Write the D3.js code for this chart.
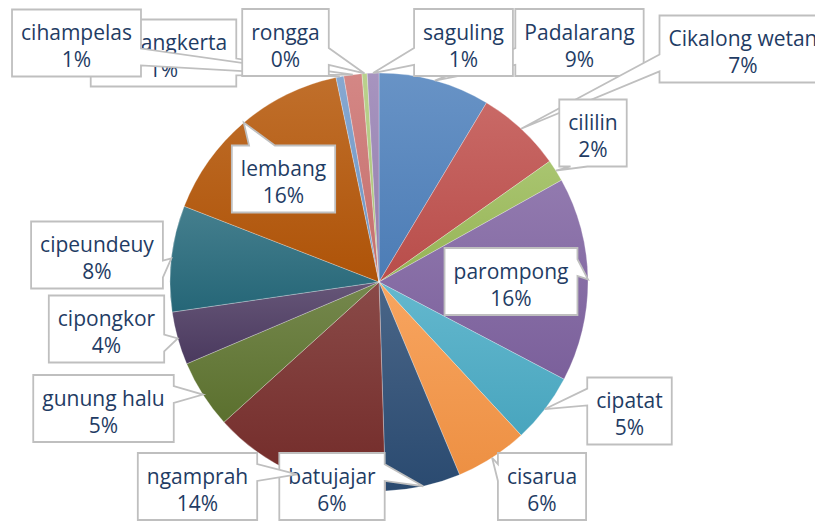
<!DOCTYPE html>
<html>
<head>
<meta charset="utf-8">
<script src="https://cdn.jsdelivr.net/npm/d3@7/dist/d3.min.js"></script>
<style>
  html, body { margin: 0; padding: 0; background: #ffffff; }
  svg { display: block; }
</style>
</head>
<body>
<svg id="chart" width="815" height="522"></svg>
<script>
// ---- data ----
const categories = ["Padalarang", "Cikalong wetan", "cililin", "parompong", "cipatat", "cisarua",
  "batujajar", "ngamprah", "gunung halu", "cipongkor", "cipeundeuy", "lembang",
  "cihampelas", "sindangkerta", "rongga", "saguling"];
const values = [8.6, 6.6, 1.7, 15.8, 5.4, 5.6, 5.8, 13.8, 5.3, 4.1, 8.2, 15.8, 0.6, 1.4, 0.4, 0.9];
const colors = ["#4F81BD", "#C0504D", "#9BBB59", "#8064A2", "#4BACC6", "#F79646",
  "#2C4D75", "#772C2A", "#5F7530", "#4D3B62", "#276A7C", "#B65708",
  "#729ACA", "#CD7371", "#AFC97A", "#9983B5"];
// label box centres (layout, chosen to match reference placement)
const labelCentersX = [579.5, 743, 593, 511, 629.5, 542, 332, 197.5, 103.5, 106.5, 97, 283.5, 76.5, 163.5, 285.5, 463.5];
const labelCentersY = [42.5, 49, 133, 281.5, 411, 486.5, 486.5, 486.5, 408.5, 329, 255, 179, 43, 53, 42.5, 42.5];
const drawOrder = [0, 1, 2, 3, 4, 5, 6, 7, 8, 9, 10, 11, 13, 12, 14, 15];

// ---- layout ----
const W = 815, H = 522;
const cx = 379, cy = 282, R = 209;
const boxH = 67, padX = 9;
const fontFamily = "'Open Sans', 'Noto Sans', sans-serif";
const fontSize = 21;

const svg = d3.select("#chart");
svg.append("rect").attr("width", W).attr("height", H).attr("fill", "#ffffff");

const defs = svg.append("defs");
const total = d3.sum(values);
const data = categories.map((c, i) => ({ name: c, value: values[i], i }));

const pie = d3.pie().value(d => d.value).sort(null).startAngle(0).endAngle(2 * Math.PI);
const arcs = pie(data);
const arc = d3.arc().innerRadius(0).outerRadius(R);

arcs.forEach((a, i) => {
  const base = d3.color(colors[i]);
  const g = defs.append("linearGradient")
    .attr("id", "grad" + i)
    .attr("x1", 0).attr("y1", 0).attr("x2", 0).attr("y2", 1);
  g.append("stop").attr("offset", "0%").attr("stop-color", d3.interpolateRgb(colors[i], "#ffffff")(0.14));
  g.append("stop").attr("offset", "100%").attr("stop-color", base.darker(0.12).formatHex());
});

const gPie = svg.append("g").attr("transform", `translate(${cx},${cy})`);
gPie.selectAll("path.slice")
  .data(arcs)
  .join("path")
  .attr("class", "slice")
  .attr("d", arc)
  .attr("fill", (d, i) => `url(#grad${i})`)
  .attr("stroke", "#ffffff")
  .attr("stroke-opacity", 0.45)
  .attr("stroke-width", 0.6);

// ---- callout labels ----
function calloutPath(l, t, r, b, xt, yt) {
  const w = r - l, h = b - t, hc = l + w / 2, vc = t + h / 2;
  const dx = xt - hc, dy = yt - vc;
  const dq = dx * h / w;
  if (Math.abs(dy) > Math.abs(dq)) {
    const x1 = l + (dx > 0 ? 7 : 2) * w / 12, x2 = l + (dx > 0 ? 10 : 5) * w / 12;
    if (dy < 0) return `M${l},${t}L${x1},${t}L${xt},${yt}L${x2},${t}L${r},${t}L${r},${b}L${l},${b}Z`;
    return `M${l},${t}L${r},${t}L${r},${b}L${x2},${b}L${xt},${yt}L${x1},${b}L${l},${b}Z`;
  } else {
    const y1 = t + (dy > 0 ? 7 : 2) * h / 12, y2 = t + (dy > 0 ? 10 : 5) * h / 12;
    if (dx < 0) return `M${l},${t}L${r},${t}L${r},${b}L${l},${b}L${l},${y2}L${xt},${yt}L${l},${y1}Z`;
    return `M${l},${t}L${r},${t}L${r},${y1}L${xt},${yt}L${r},${y2}L${r},${b}L${l},${b}Z`;
  }
}

const gLab = svg.append("g");
drawOrder.forEach(i => {
  const a = arcs[i];
  const mid = (a.startAngle + a.endAngle) / 2;
  const xt = cx + R * Math.sin(mid), yt = cy - R * Math.cos(mid);
  const pct = Math.round(a.data.value / total * 100) + "%";
  const g = gLab.append("g");
  const path = g.append("path");
  const t1 = g.append("text")
    .attr("x", labelCentersX[i]).attr("y", labelCentersY[i] - 3)
    .attr("text-anchor", "middle")
    .attr("font-family", fontFamily).attr("font-size", fontSize)
    .attr("fill", "#1F3C64")
    .text(a.data.name);
  const t2 = g.append("text")
    .attr("x", labelCentersX[i]).attr("y", labelCentersY[i] + 24)
    .attr("text-anchor", "middle")
    .attr("font-family", fontFamily).attr("font-size", fontSize)
    .attr("fill", "#1F3C64")
    .text(pct);
  const tw = Math.max(t1.node().getComputedTextLength(), t2.node().getComputedTextLength());
  const bw = tw + 2 * padX;
  const l = labelCentersX[i] - bw / 2, r = labelCentersX[i] + bw / 2;
  const t = labelCentersY[i] - boxH / 2, b = labelCentersY[i] + boxH / 2;
  path.attr("d", calloutPath(l, t, r, b, xt, yt))
    .attr("fill", "#ffffff")
    .attr("stroke", "#BFBFBF")
    .attr("stroke-width", 1.8)
    .attr("stroke-linejoin", "miter");
});
</script>
</body>
</html>
